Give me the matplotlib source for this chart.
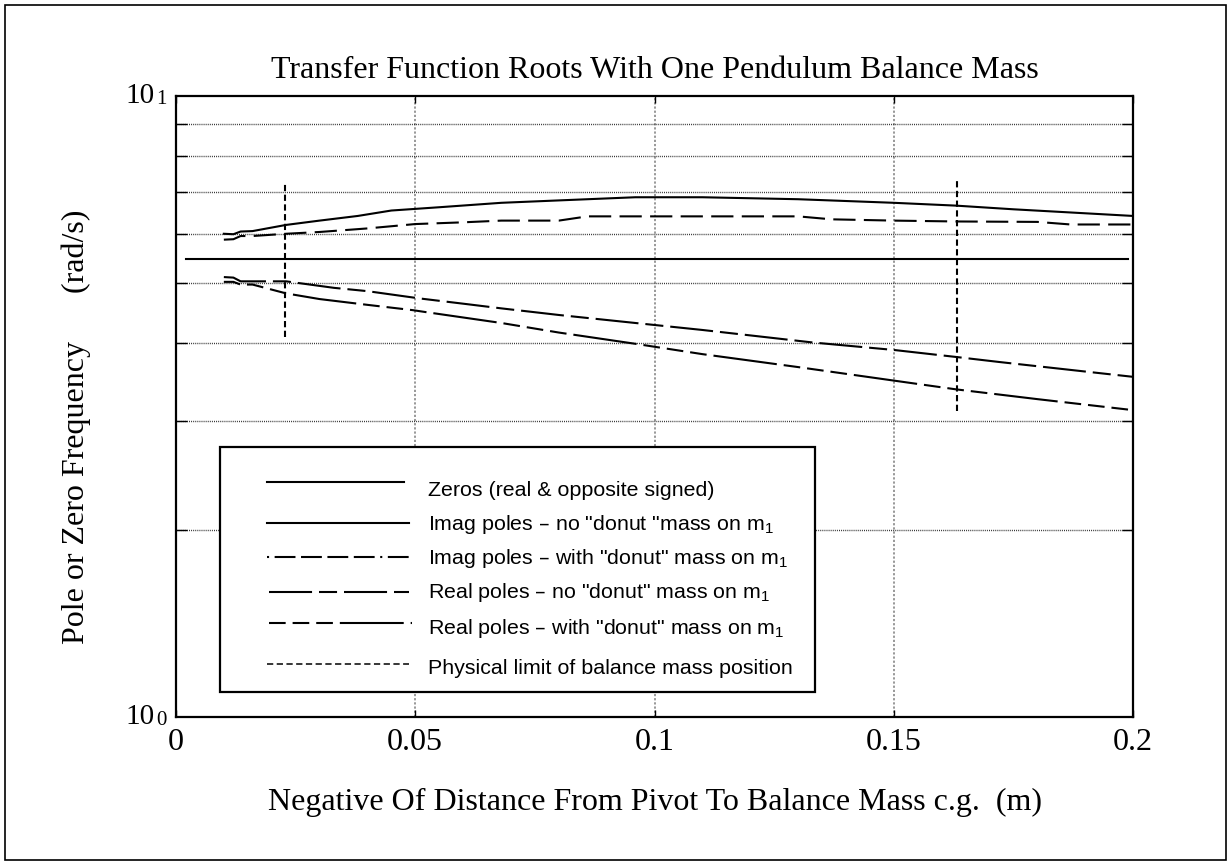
import matplotlib
matplotlib.use("Agg")
import matplotlib.pyplot as plt
from matplotlib.patches import Rectangle
from matplotlib.ticker import FixedLocator, NullFormatter

plt.rcParams['lines.scale_dashes'] = False
plt.rcParams['mathtext.default'] = 'regular'

# ---------------- data ----------------
title = "Transfer Function Roots With One Pendulum Balance Mass"
xlabel = "Negative Of Distance From Pivot To Balance Mass c.g.  (m)"
ylabel = "Pole or Zero Frequency      (rad/s)"
xtick_vals = [0, 0.05, 0.1, 0.15, 0.2]
xtick_labels = ["0", "0.05", "0.1", "0.15", "0.2"]

zeros_x = [0.002, 0.199]
zeros_y = [5.47, 5.47]

imag_no_x = [0.010, 0.012, 0.0135, 0.016, 0.023, 0.030, 0.038, 0.045, 0.055,
             0.068, 0.082, 0.096, 0.110, 0.130, 0.150, 0.163, 0.175, 0.200]
imag_no_y = [6.00, 5.99, 6.05, 6.06, 6.20, 6.30, 6.41, 6.54, 6.62,
             6.73, 6.80, 6.87, 6.87, 6.82, 6.73, 6.66, 6.57, 6.41]

imag_with_x = [0.010, 0.012, 0.0135, 0.016, 0.023, 0.030, 0.040, 0.050, 0.060,
               0.068, 0.080, 0.086, 0.095, 0.110, 0.130, 0.137, 0.150, 0.163,
               0.180, 0.187, 0.200]
imag_with_y = [5.87, 5.88, 5.95, 5.95, 6.00, 6.04, 6.12, 6.22, 6.26,
               6.30, 6.30, 6.40, 6.40, 6.40, 6.40, 6.33, 6.30, 6.28,
               6.27, 6.21, 6.21]

real_no_x = [0.010, 0.012, 0.0135, 0.016, 0.023, 0.033, 0.040, 0.051, 0.061,
             0.068, 0.080, 0.096, 0.110, 0.133, 0.150, 0.163, 0.172, 0.200]
real_no_y = [5.11, 5.10, 5.03, 5.03, 5.03, 4.91, 4.85, 4.72, 4.62,
             4.55, 4.44, 4.31, 4.20, 4.01, 3.90, 3.80, 3.73, 3.53]

real_with_x = [0.010, 0.012, 0.0135, 0.016, 0.023, 0.030, 0.040, 0.0495, 0.052,
               0.068, 0.080, 0.096, 0.110, 0.130, 0.149, 0.163, 0.180, 0.200]
real_with_y = [5.02, 5.02, 4.97, 4.97, 4.81, 4.71, 4.61, 4.52, 4.49,
               4.31, 4.16, 3.99, 3.84, 3.66, 3.49, 3.37, 3.25, 3.12]

limit1_x = [0.0228, 0.0228]
limit1_y = [4.09, 7.24]
limit2_x = [0.1632, 0.1632]
limit2_y = [3.11, 7.30]

legend_labels = [
    "Zeros (real & opposite signed)",
    'Imag poles \u2013 no "donut "mass on m$_1$',
    'Imag poles \u2013 with "donut" mass on m$_1$',
    'Real poles \u2013 no "donut" mass on m$_1$',
    'Real poles \u2013 with "donut" mass on m$_1$',
    "Physical limit of balance mass position",
]

# ---------------- styles ----------------
LW = 1.5
ls_solid = '-'
ls_imag_with = (0, (1.5, 4, 15, 4, 15, 4, 15, 4, 15, 4))
ls_real_no = (0, (31, 5, 13, 5))
ls_real_with = (0, (12, 5, 12, 5, 12, 5, 46, 5))
ls_limit = (0, (4.5, 2.5))
serif = ['Liberation Serif', 'DejaVu Serif']
sans = ['Liberation Sans', 'DejaVu Sans']
FS = 23

W, H = 1231, 865
fig = plt.figure(figsize=(W / 100, H / 100), dpi=100)
ax_l, ax_r, ax_t, ax_b = 176, 1133, 96, 717
ax = fig.add_axes([ax_l / W, (H - ax_b) / H, (ax_r - ax_l) / W, (ax_b - ax_t) / H])

# figure border
fig.patches.append(Rectangle((5 / W, 5 / H), (W - 10) / W, (H - 10) / H,
                             transform=fig.transFigure, fill=False,
                             edgecolor='black', linewidth=1.2))

ax.set_yscale('log')
ax.set_xlim(0, 0.2)
ax.set_ylim(1, 10)

# curves
ax.plot(zeros_x, zeros_y, color='black', lw=LW, linestyle=ls_solid)
ax.plot(imag_no_x, imag_no_y, color='black', lw=LW, linestyle=ls_solid)
ax.plot(imag_with_x, imag_with_y, color='black', lw=LW, linestyle=(0, (16, 6)))
ax.plot(real_no_x, real_no_y, color='black', lw=LW, linestyle=ls_real_no)
ax.plot(real_with_x, real_with_y, color='black', lw=LW, linestyle=ls_real_with)
ax.plot(limit1_x, limit1_y, color='black', lw=LW, linestyle=ls_limit)
ax.plot(limit2_x, limit2_y, color='black', lw=LW, linestyle=ls_limit)

# ticks
ax.set_xticks(xtick_vals)
ax.set_xticklabels(xtick_labels, fontfamily=serif, fontsize=FS)
ax.yaxis.set_major_locator(FixedLocator([1, 10]))
ax.yaxis.set_major_formatter(NullFormatter())
ax.yaxis.set_minor_locator(FixedLocator([2, 3, 4, 5, 6, 7, 8, 9]))
ax.yaxis.set_minor_formatter(NullFormatter())
ax.tick_params(axis='x', which='major', direction='in', length=5, width=1,
               top=True, bottom=True, pad=8)
ax.tick_params(axis='y', which='minor', direction='in', length=8, width=1,
               left=True, right=True)
ax.tick_params(axis='y', which='major', direction='in', length=0,
               left=True, right=True)

# manual y labels (MATLAB style 10^n)
for val, exp in [(1, "0"), (10, "1")]:
    ax.annotate("10", xy=(0, val), xycoords=('axes fraction', 'data'),
                xytext=(-15.5, 0), textcoords='offset points',
                ha='right', va='center', fontfamily=serif, fontsize=21,
                annotation_clip=False)
    ax.annotate(exp, xy=(0, val), xycoords=('axes fraction', 'data'),
                xytext=(-14, -5.5), textcoords='offset points',
                ha='left', va='baseline', fontfamily=serif, fontsize=15,
                annotation_clip=False)

# grid
ax.grid(which='minor', axis='y', color='#333333', linestyle=(0, (0.7, 0.8)), lw=1.0)
ax.grid(which='major', axis='x', color='#999999', linestyle=(0, (1.6, 1.4)), lw=1.4)
ax.grid(which='major', axis='y', visible=False)

for s in ax.spines.values():
    s.set_linewidth(1.6)

# layout helpers (pixel -> axes fraction)
def fx(px):
    return (px - ax_l) / (ax_r - ax_l)

def fy(py):
    return (ax_b - py) / (ax_b - ax_t)

ax.set_title(title, fontfamily=serif, fontsize=FS, pad=13)
ax.set_xlabel(xlabel, fontfamily=serif, fontsize=FS, labelpad=22)
ax.set_ylabel(ylabel, fontfamily=serif, fontsize=FS, labelpad=58)
ax.yaxis.label.set_y(fy(427))

# legend box (manual layout)
ax.add_patch(Rectangle((fx(220), fy(692)), fx(815) - fx(220), fy(447) - fy(692),
                       transform=ax.transAxes, facecolor='white',
                       edgecolor='black', linewidth=1.6, zorder=5))
leg_styles = [ls_solid, ls_solid, ls_imag_with, ls_real_no, ls_real_with, ls_limit]
leg_line_rows = [482, 523, 557, 592, 623, 664]
leg_text_rows = [490, 525, 558, 593, 628, 668]
leg_line_x = [(267, 404), (267, 409), (267, 409), (269, 409), (269, 412), (267, 409)]
leg_lw = [LW, LW, LW, LW, LW, 1.1]
for lab, st, lr, tr, (x0, x1), lw in zip(legend_labels, leg_styles, leg_line_rows,
                                         leg_text_rows, leg_line_x, leg_lw):
    ax.plot([fx(x0), fx(x1)], [fy(lr), fy(lr)], transform=ax.transAxes,
            color='black', lw=lw, linestyle=st, zorder=6, clip_on=False)
    ax.text(fx(428), fy(tr), lab, transform=ax.transAxes, ha='left',
            va='center', fontfamily=sans, fontsize=15.4, zorder=6)

fig.savefig("out.png", dpi=100)
